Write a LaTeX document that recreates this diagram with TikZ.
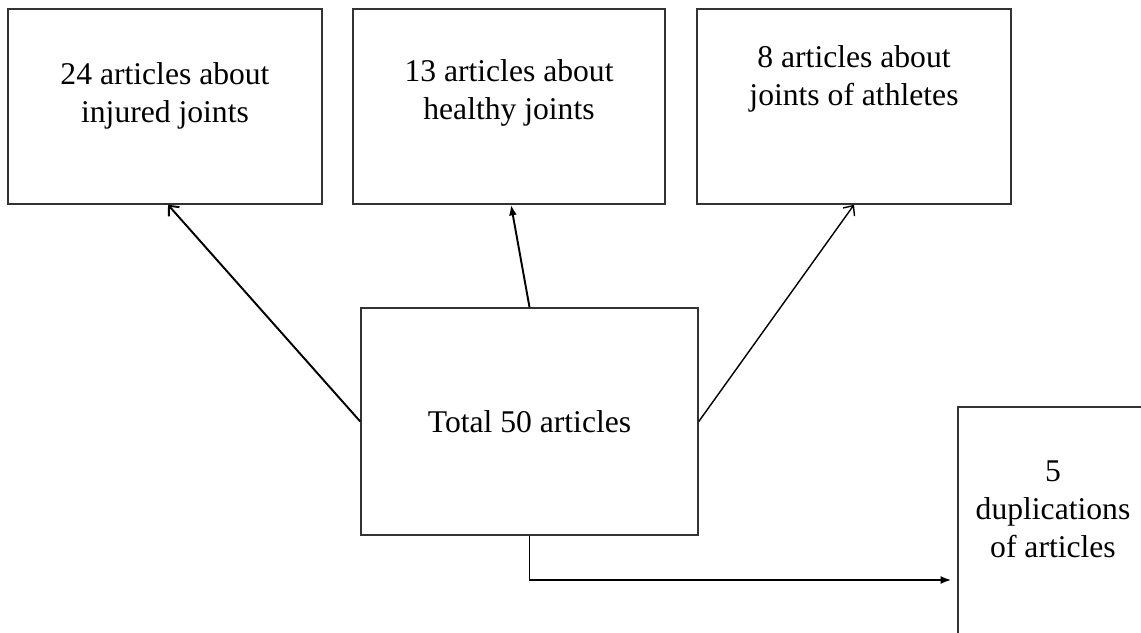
\documentclass[tikz,border=0pt]{standalone}
\usepackage{fontspec}
\setmainfont{Liberation Serif}
\usepackage{tikz}
\usetikzlibrary{arrows.meta, positioning, calc}
\definecolor{BoxGray}{HTML}{333333}
\newcommand{\padtext}[4]{\parbox[c][#1][t]{#2}{\centering\vspace*{#3}#4}}

\begin{document}
\begin{tikzpicture}[x=0.02cm, y=-0.02cm,
    artbox/.style={draw=BoxGray, line width=0.9pt, inner sep=0pt,
                   font=\fontsize{18}{21.6}\selectfont},
    thickarrow/.style={black, line width=1.1pt},
    thinarrow/.style={black, line width=0.8pt}]
    \clip (0,0) rectangle (1141,632);
    \fill[white] (0,0) rectangle (1141,632);

    % three groups on top
    \node[artbox] (inj) at (165,106.5) {\padtext{3.9cm}{6.28cm}{1.08cm}{24 articles about\\injured joints}};
    \node[artbox] (hea) at (509,106.5) {\padtext{3.9cm}{6.24cm}{1.02cm}{13 articles about\\healthy joints}};
    \node[artbox] (ath) at (854,106.5) {\padtext{3.9cm}{6.28cm}{0.74cm}{8 articles about\\joints of athletes}};

    % total and duplications
    \node[artbox, minimum width=6.74cm, minimum height=4.54cm] (tot) at (529.5,421.5) {Total 50 articles};
    \node[artbox] (dup) at (1053,537) {\padtext{5.2cm}{3.8cm}{1.08cm}{5\\duplications\\of articles}};

    \draw[thickarrow, -{Straight Barb[length=4.5pt, width=8pt]}] (tot.west) -- ([xshift=0.06cm]inj.south);
    \draw[thickarrow, -{Latex[length=6pt, width=4.5pt]}] (tot.north) -- ([xshift=0.04cm]hea.south);
    \draw[thinarrow, -{Straight Barb[length=4.5pt, width=8pt]}] (tot.east) -- (ath.south);
    \draw[thickarrow, -{Latex[length=6pt, width=4.5pt]}, shorten >=0.12cm]
        (tot.south) |- ([yshift=-0.86cm]dup.west);
\end{tikzpicture}
\end{document}
